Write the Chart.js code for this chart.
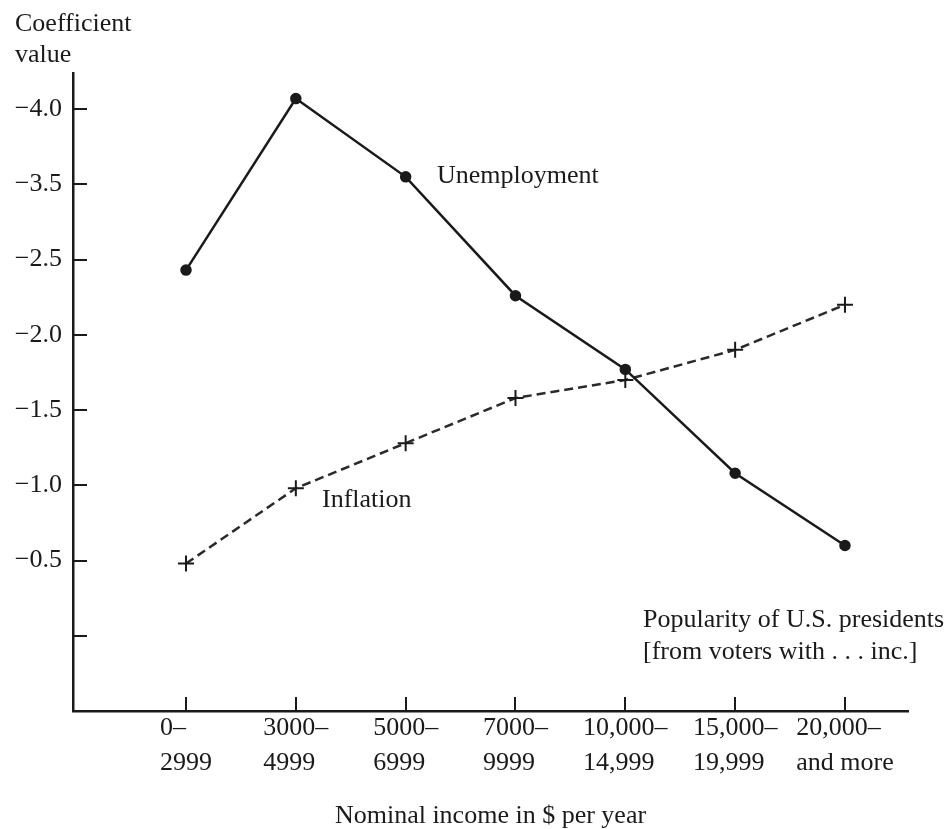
<!DOCTYPE html>
<html>
<head>
<meta charset="utf-8">
<script src="https://cdn.jsdelivr.net/npm/chart.js@4.4.1/dist/chart.umd.min.js"></script>
<style>
  html, body { margin: 0; padding: 0; background: #fff; }
  #wrap { width: 950px; height: 829px; position: relative; }
</style>
</head>
<body>
<div id="wrap"><canvas id="coefChart"></canvas></div>
<script>
// income brackets (x categories), two lines each
const incomeBrackets = [
  ['0\u2013', '2999'],
  ['3000\u2013', '4999'],
  ['5000\u2013', '6999'],
  ['7000\u2013', '9999'],
  ['10,000\u2013', '14,999'],
  ['15,000\u2013', '19,999'],
  ['20,000\u2013', 'and more']
]

// coefficient values
const unemployment = [-2.43, -3.57, -3.05, -2.26, -1.77, -1.08, -0.60]
const inflation = [-0.48, -0.98, -1.28, -1.58, -1.70, -1.90, -2.20]

// y ticks, labels as printed in the original
const yTickValues = [-3.5, -3.0, -2.5, -2.0, -1.5, -1.0, -0.5, 0]
const yTickLabels = ['\u22124.0', '\u22123.5', '\u22122.5', '\u22122.0', '\u22121.5', '\u22121.0', '\u22120.5', '']

const FONT = '"Liberation Serif", "Times New Roman", serif'
const INK = '#1a1a1a'

const measureCtx = document.createElement('canvas').getContext('2d')
measureCtx.font = '26px ' + FONT
const spaceW = measureCtx.measureText(' ').width

// left-align the two lines of a tick label by padding the shorter one
function padLines(lines) {
  const w = lines.map(s => measureCtx.measureText(s).width)
  const max = Math.max(...w)
  return lines.map((s, i) => s + ' '.repeat(Math.round((max - w[i]) / spaceW)))
}

const extras = {
  id: 'extras',
  afterDraw(chart) {
    const { ctx, scales: { x, y }, chartArea } = chart
    ctx.save()
    ctx.strokeStyle = INK
    ctx.lineWidth = 2
    // tick marks point inward
    yTickValues.forEach(v => {
      const py = Math.round(y.getPixelForValue(v))
      ctx.beginPath()
      ctx.moveTo(chartArea.left, py)
      ctx.lineTo(chartArea.left + 14, py)
      ctx.stroke()
    })
    incomeBrackets.forEach((_, i) => {
      const px = Math.round(x.getPixelForValue(i))
      ctx.beginPath()
      ctx.moveTo(px, chartArea.bottom)
      ctx.lineTo(px, chartArea.bottom - 14)
      ctx.stroke()
    })

    ctx.fillStyle = INK
    ctx.font = '26px ' + FONT
    ctx.textAlign = 'left'
    ctx.textBaseline = 'alphabetic'
    ctx.fillText('Coefficient', 15, 31)
    ctx.fillText('value', 15, 62)
    ctx.fillText('Unemployment', 437, 183)
    ctx.fillText('Inflation', 322, 507)
    ctx.fillText('Popularity of U.S. presidents', 643, 627)
    ctx.fillText('[from voters with . . . inc.]', 643, 659)
    ctx.restore()
  }
}

const ctx = document.getElementById('coefChart').getContext('2d')

new Chart(ctx, {
  type: 'line',
  data: {
    datasets: [
      {
        label: 'Unemployment',
        data: unemployment.map((v, i) => ({ x: i, y: v })),
        borderColor: INK,
        backgroundColor: INK,
        borderWidth: 2.5,
        pointRadius: 4.5,
        pointStyle: 'circle',
        tension: 0
      },
      {
        label: 'Inflation',
        data: inflation.map((v, i) => ({ x: i, y: v })),
        borderColor: '#2a2a2a',
        backgroundColor: INK,
        borderWidth: 2.5,
        borderDash: [9, 5],
        pointRadius: 8,
        pointBorderWidth: 2,
        pointBorderColor: INK,
        pointStyle: 'cross',
        tension: 0
      }
    ]
  },
  options: {
    responsive: true,
    maintainAspectRatio: false,
    animation: false,
    layout: { padding: { top: 73, right: 42, left: 0, bottom: 0 } },
    plugins: {
      legend: { display: false },
      tooltip: { enabled: false }
    },
    scales: {
      x: {
        type: 'linear',
        min: -1.029,
        max: 6.574,
        afterBuildTicks: s => { s.ticks = incomeBrackets.map((_, i) => ({ value: i })) },
        afterFit: s => { s.height = 118 },
        grid: { display: false, drawTicks: false },
        border: { display: true, color: INK, width: 2.5 },
        ticks: {
          autoSkip: false,
          maxRotation: 0,
          padding: 0,
          color: INK,
          font: { family: FONT, size: 26, lineHeight: 1.35 },
          callback: v => incomeBrackets[v] ? padLines(incomeBrackets[v]) : ''
        },
        title: {
          display: true,
          text: 'Nominal income in $ per year',
          color: INK,
          padding: 0,
          font: { family: FONT, size: 26, lineHeight: 1 }
        }
      },
      y: {
        type: 'linear',
        reverse: true,
        min: -3.74,
        max: 0.5,
        afterBuildTicks: s => { s.ticks = yTickValues.map(v => ({ value: v })) },
        afterFit: s => { s.width = 73 },
        grid: { display: false, drawTicks: false },
        border: { display: true, color: INK, width: 2.5 },
        ticks: {
          padding: 11,
          color: INK,
          font: { family: FONT, size: 26 },
          callback: v => {
            const i = yTickValues.indexOf(v)
            return i >= 0 ? yTickLabels[i] : ''
          }
        }
      }
    }
  },
  plugins: [extras]
})
</script>
</body>
</html>
